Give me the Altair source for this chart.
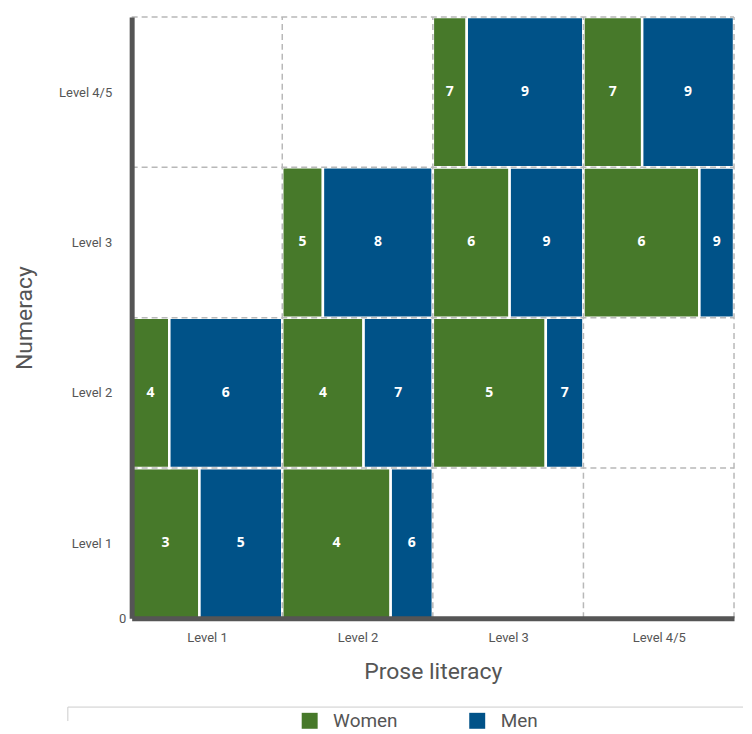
import altair as alt
import pandas as pd

levels = ["Level 1", "Level 2", "Level 3", "Level 4/5"]
prose = ["Level 1", "Level 2", "Level 1", "Level 2", "Level 3",
         "Level 2", "Level 3", "Level 4/5", "Level 3", "Level 4/5"]
numeracy = ["Level 1", "Level 1", "Level 2", "Level 2", "Level 2",
            "Level 3", "Level 3", "Level 3", "Level 4/5", "Level 4/5"]
women_share = [0.45, 0.72, 0.25, 0.54, 0.75, 0.27, 0.51, 0.77, 0.225, 0.39]
women_value = [3, 4, 4, 4, 5, 5, 6, 6, 7, 7]
men_value = [5, 6, 6, 7, 7, 8, 9, 9, 9, 9]
groups = ["Women", "Men"]
colors = ["#47792a", "#005288"]

rows = []
for p, n, s, wv, mv in zip(prose, numeracy, women_share, women_value, men_value):
    c = levels.index(p)
    r = levels.index(n)
    rows.append({"group": "Women", "x0": c, "x1": c + s, "y0": r, "y1": r + 1,
                 "xm": c + s / 2, "ym": r + 0.5, "value": wv})
    rows.append({"group": "Men", "x0": c + s, "x1": c + 1, "y0": r, "y1": r + 1,
                 "xm": c + s + (1 - s) / 2, "ym": r + 0.5, "value": mv})
df = pd.DataFrame(rows)

bounds = list(range(1, len(levels) + 1))
vgrid = pd.DataFrame({"pos": bounds, "start": 0, "end": len(levels)})

FONT = "Liberation Sans Narrow, Roboto, sans-serif"
label_expr = "['Level 1','Level 2','Level 3','Level 4/5'][floor(datum.value)]"

xscale = alt.Scale(domain=[0, 4], nice=False, zero=False)
yscale = alt.Scale(domain=[0, 4], nice=False, zero=False)

rects = alt.Chart(df).mark_rect(stroke="white", strokeWidth=2.5).encode(
    x=alt.X("x0:Q", scale=xscale, title="Prose literacy",
            axis=alt.Axis(values=[0.5, 1.5, 2.5, 3.5], labelExpr=label_expr,
                          grid=False, ticks=False, domainColor="#555555",
                          domainWidth=5, labelColor="#555555", labelFontSize=13,
                          labelFont=FONT, labelPadding=13, titleFont=FONT,
                          titleFontSize=23, titleFontWeight="normal",
                          titleColor="#555555", titlePadding=16, zindex=1)),
    x2="x1:Q",
    y=alt.Y("y0:Q", scale=yscale, title="Numeracy",
            axis=alt.Axis(values=[0, 0.5, 1.5, 2.5, 3.5],
                          labelExpr="datum.value == 0 ? '0' : " + label_expr,
                          grid=False, ticks=False, domainColor="#555555",
                          domainWidth=5, labelColor="#555555", labelFontSize=13,
                          labelFont=FONT,
                          labelPadding={"condition": {"test": "datum.value == 0", "value": 6}, "value": 20},
                          titleFont=FONT, titleFontSize=23,
                          titleFontWeight="normal", titleColor="#555555",
                          titlePadding=22, zindex=1)),
    y2="y1:Q",
    color=alt.Color("group:N", scale=alt.Scale(domain=groups, range=colors),
                    legend=alt.Legend(title=None, orient="none", legendX=169,
                                      legendY=696, direction="horizontal",
                                      symbolType="square", symbolSize=256,
                                      symbolStrokeWidth=0, labelFontSize=19,
                                      labelFont=FONT, labelColor="#555555",
                                      labelOffset=14, columnPadding=70)),
)

texts = alt.Chart(df).mark_text(color="white", fontWeight="bold", fontSize=14,
                                font="Open Sans").encode(
    x=alt.X("xm:Q", scale=xscale), y=alt.Y("ym:Q", scale=yscale),
    text="value:N")

vrules = alt.Chart(vgrid).mark_rule(color="#b8b8b8", strokeDash=[6, 4],
                                    strokeWidth=1.5).encode(
    x=alt.X("pos:Q", scale=xscale), y=alt.Y("start:Q", scale=yscale),
    y2="end:Q")
hrules = alt.Chart(vgrid).mark_rule(color="#b8b8b8", strokeDash=[6, 4],
                                    strokeWidth=1.5).encode(
    y=alt.Y("pos:Q", scale=yscale), x=alt.X("start:Q", scale=xscale),
    x2="end:Q")

one = pd.DataFrame({"k": [0]})
box_top = alt.Chart(one).mark_rule(color="#cccccc", strokeWidth=1).encode(
    x=alt.value(-64), x2=alt.value(613), y=alt.value(692))
box_left = alt.Chart(one).mark_rule(color="#cccccc", strokeWidth=1).encode(
    x=alt.value(-64), y=alt.value(692), y2=alt.value(706))

chart = alt.layer(box_top, box_left, rects, vrules, hrules, texts).properties(
    width=604, height=603,
    padding={"left": 5, "top": 6, "right": 0, "bottom": 0},
).configure_view(stroke=None)

chart.save("out.html", embed_options={"renderer": "svg", "actions": False})
